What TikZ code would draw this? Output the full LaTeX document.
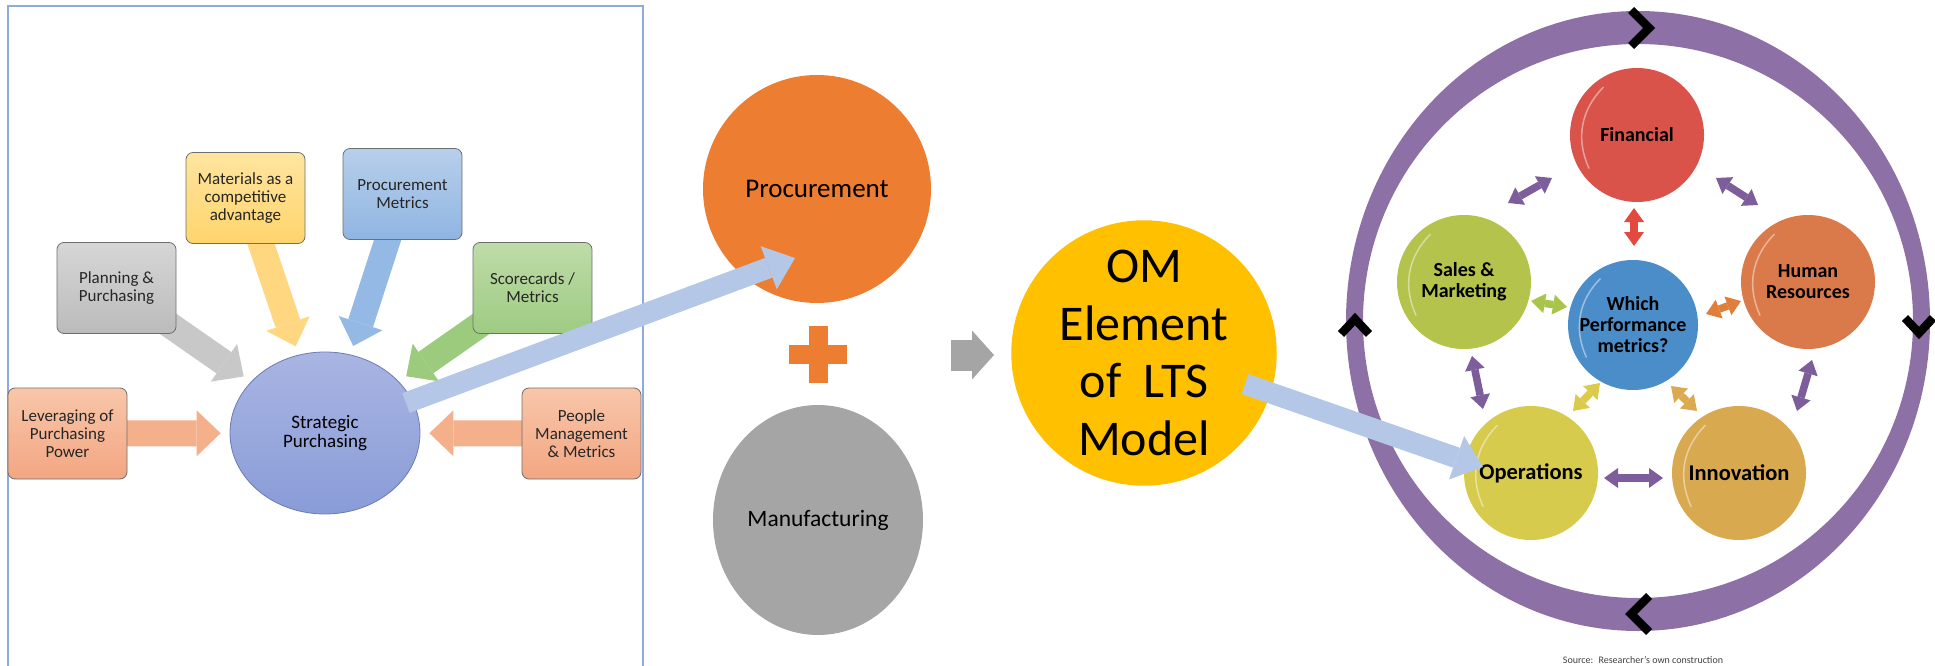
\documentclass[tikz,border=0pt]{standalone}
\usepackage{fontspec}
\setmainfont{Carlito}
\usetikzlibrary{arrows.meta,backgrounds,calc,positioning,shapes.geometric}

\definecolor{frameblue}{HTML}{8FAADC}
\definecolor{boxedge}{HTML}{6E6E6E}
\definecolor{salmonT}{HTML}{F8C6AA}
\definecolor{salmonB}{HTML}{F3A682}
\definecolor{salmonA}{HTML}{F4B08A}
\definecolor{grayT}{HTML}{D6D6D6}
\definecolor{grayB}{HTML}{BBBBBB}
\definecolor{grayA}{HTML}{C8C8C8}
\definecolor{yelT}{HTML}{FFE5A0}
\definecolor{yelB}{HTML}{FFD46C}
\definecolor{yelA}{HTML}{FFD780}
\definecolor{bluT}{HTML}{B7CFEA}
\definecolor{bluB}{HTML}{90B5E2}
\definecolor{bluA}{HTML}{94B9E4}
\definecolor{grnT}{HTML}{BEDCA8}
\definecolor{grnB}{HTML}{9ECB82}
\definecolor{grnA}{HTML}{9CCB7E}
\definecolor{spT}{HTML}{A9B5E2}
\definecolor{spB}{HTML}{899CD8}
\definecolor{spD}{HTML}{6C7CB3}
\definecolor{lblue}{HTML}{B4C7E7}
\definecolor{procO}{HTML}{ED7D31}
\definecolor{manG}{HTML}{A5A5A5}
\definecolor{omY}{HTML}{FFC000}
\definecolor{ringP}{HTML}{8D70A5}
\definecolor{linkP}{HTML}{7D5E9A}
\definecolor{finR}{HTML}{D9534B}
\definecolor{ctrB}{HTML}{4B8DC8}
\definecolor{salG}{HTML}{B4C34C}
\definecolor{hrO}{HTML}{DA7A4A}
\definecolor{opsY}{HTML}{D6CB4D}
\definecolor{innG}{HTML}{D9A94F}
\definecolor{linkR}{HTML}{E3493E}
\definecolor{linkG}{HTML}{A9C44A}
\definecolor{linkO}{HTML}{E07F3C}
\definecolor{linkY}{HTML}{DCCB4B}
\definecolor{linkD}{HTML}{DBAA4E}

\begin{document}
\begin{tikzpicture}[x=1pt,y=-1pt,
  box/.style={rounded corners=7pt, draw=boxedge, line width=0.8pt, minimum width=119pt,
    minimum height=91pt, inner sep=2pt, align=center, text=black!85,
    font=\fontsize{17}{18}\selectfont},
  feed/.style={line width=26pt, shorten >=9pt,
    -{Triangle[width=46pt,length=24pt,line width=0pt]}},
  bigarrow/.style={draw=lblue, line width=21pt,
    -{Triangle[width=46pt,length=28pt,line width=0pt]}},
  orb/.style={circle, minimum size=134pt, inner sep=0pt, align=center,
    font=\bfseries\fontsize{20}{21}\selectfont},
  link/.style={line width=7.5pt,
    {Triangle[width=20pt,length=14pt,line width=0pt]}-{Triangle[width=20pt,length=14pt,line width=0pt]}},
  chev/.style={line width=8.5pt, miter limit=10}]
\useasboundingbox (0,0) rectangle (1935,666);

% left panel
\draw[frameblue, line width=1.2pt] (8,670) |- (643,6) -- (643,670);

\node[ellipse, draw=spD, line width=0.8pt, top color=spT, bottom color=spB,
  minimum width=190pt, minimum height=162pt, align=center,
  font=\fontsize{19}{19}\selectfont] (sp) at (325,433) {Strategic\\Purchasing};

\node[box, top color=salmonT, bottom color=salmonB] (lev) at (67.5,433.5) {Leveraging of\\Purchasing\\Power};
\node[box, top color=grayT, bottom color=grayB] (plan) at (116.5,288) {Planning \&\\Purchasing};
\node[box, top color=yelT, bottom color=yelB] (mat) at (245.5,198) {Materials as a\\competitive\\advantage};
\node[box, top color=bluT, bottom color=bluB] (pm) at (402.5,194) {Procurement\\Metrics};
\node[box, top color=grnT, bottom color=grnB] (sc) at (532.5,288) {Scorecards /\\Metrics};
\node[box, top color=salmonT, bottom color=salmonB] (ppl) at (581.5,433.5) {People\\Management\\\& Metrics};

\begin{scope}[on background layer]
\draw[feed, draw=salmonA] (lev.center) -- (sp);
\draw[feed, draw=grayA] (plan.center) -- (sp);
\draw[feed, draw=yelA] (mat.center) -- (sp);
\draw[feed, draw=bluA] (pm.center) -- (sp);
\draw[feed, draw=grnA] (sc.center) -- (sp);
\draw[feed, draw=salmonA] (ppl.center) -- (sp);
\end{scope}

% middle
\node[circle, fill=procO, minimum size=228pt, font=\fontsize{27}{27}\selectfont] (proc) at (817,189) {Procurement};
\node[ellipse, fill=manG, minimum width=210pt, minimum height=230pt, font=\fontsize{23.5}{24}\selectfont] (man) at (818,520) {Manufacturing};
\fill[procO] (809,326) rectangle (828,383);
\fill[procO] (789,345) rectangle (847,364);

\coordinate (gs) at (951,355);
\coordinate (ge) at (994,355);
\draw[draw=manG, line width=31pt, -{Triangle[width=49pt,length=22pt,line width=0pt]}] (gs) -- (ge);

\node[circle, fill=omY, minimum size=263pt, inner sep=0pt, align=center,
  font=\fontsize{50}{57.5}\selectfont] (om) at (1144,353) {OM\\Element\\of~ LTS\\Model};

\draw[bigarrow] ([shift={(81,-30)}]sp.center) -- ([shift={(-22,69)}]proc.center);

% right panel
\fill[ringP, even odd rule] (1638,321) ellipse [x radius=292, y radius=310]
  (1638,321) ellipse [x radius=275, y radius=277];
\draw[chev] (1631,10) -- (1649,28) -- (1631,46);
\draw[chev] (1905,318) -- (1919,333) -- (1933,318);
\draw[chev] (1649,596) -- (1631,614) -- (1649,632);
\draw[chev] (1341,334) -- (1355,319) -- (1369,334);

\node[orb, fill=finR] (fin) at (1637,135) {Financial};
\node[orb, fill=ctrB, minimum size=130pt] (ctr) at (1633,325) {Which\\Performance\\metrics?};
\node[orb, fill=salG] (sal) at (1464,282) {Sales \&\\Marketing};
\node[orb, fill=hrO] (hr) at (1808,282) {Human\\Resources};
\node[orb, fill=opsY, font=\bfseries\fontsize{22.5}{23}\selectfont] (ops) at (1531,473) {Operations};
\node[orb, fill=innG, font=\bfseries\fontsize{22.5}{23}\selectfont] (inn) at (1739,473) {Innovation};

\foreach \n in {fin,ctr,sal,hr,ops,inn}{
  \draw[white, opacity=0.45, line width=1.5pt] ($(\n.center)!0.87!(\n.125)$) to[bend right=35] ($(\n.center)!0.87!(\n.215)$);
}

\foreach \a/\ax/\ay/\b/\bx/\by/\c in {fin/-85/43/sal/44/-79/linkP, fin/79/43/hr/-50/-77/linkP,
    sal/8/74/ops/-48/-64/linkP, hr/4/78/inn/58/-62/linkP, ops/73/5/inn/-76/5/linkP,
    fin/-3/73/ctr/1/-79/linkR, sal/67/19/ctr/-66/-18/linkG, hr/-67/19/ctr/73/-11/linkO,
    ops/42/-62/ctr/-33/58/linkY, inn/-42/-62/ctr/38/61/linkD}{
  \draw[link, draw=\c] ([shift={(\ax,\ay)}]\a.center) -- ([shift={(\bx,\by)}]\b.center);
}

\draw[bigarrow] ([shift={(101,31)}]om.center) -- ([shift={(-48,-6)}]ops.center);

\node[text=black!75, font=\fontsize{10}{12}\selectfont] (src) at (1643,660) {Source:~ Researcher's own construction};
\end{tikzpicture}
\end{document}
